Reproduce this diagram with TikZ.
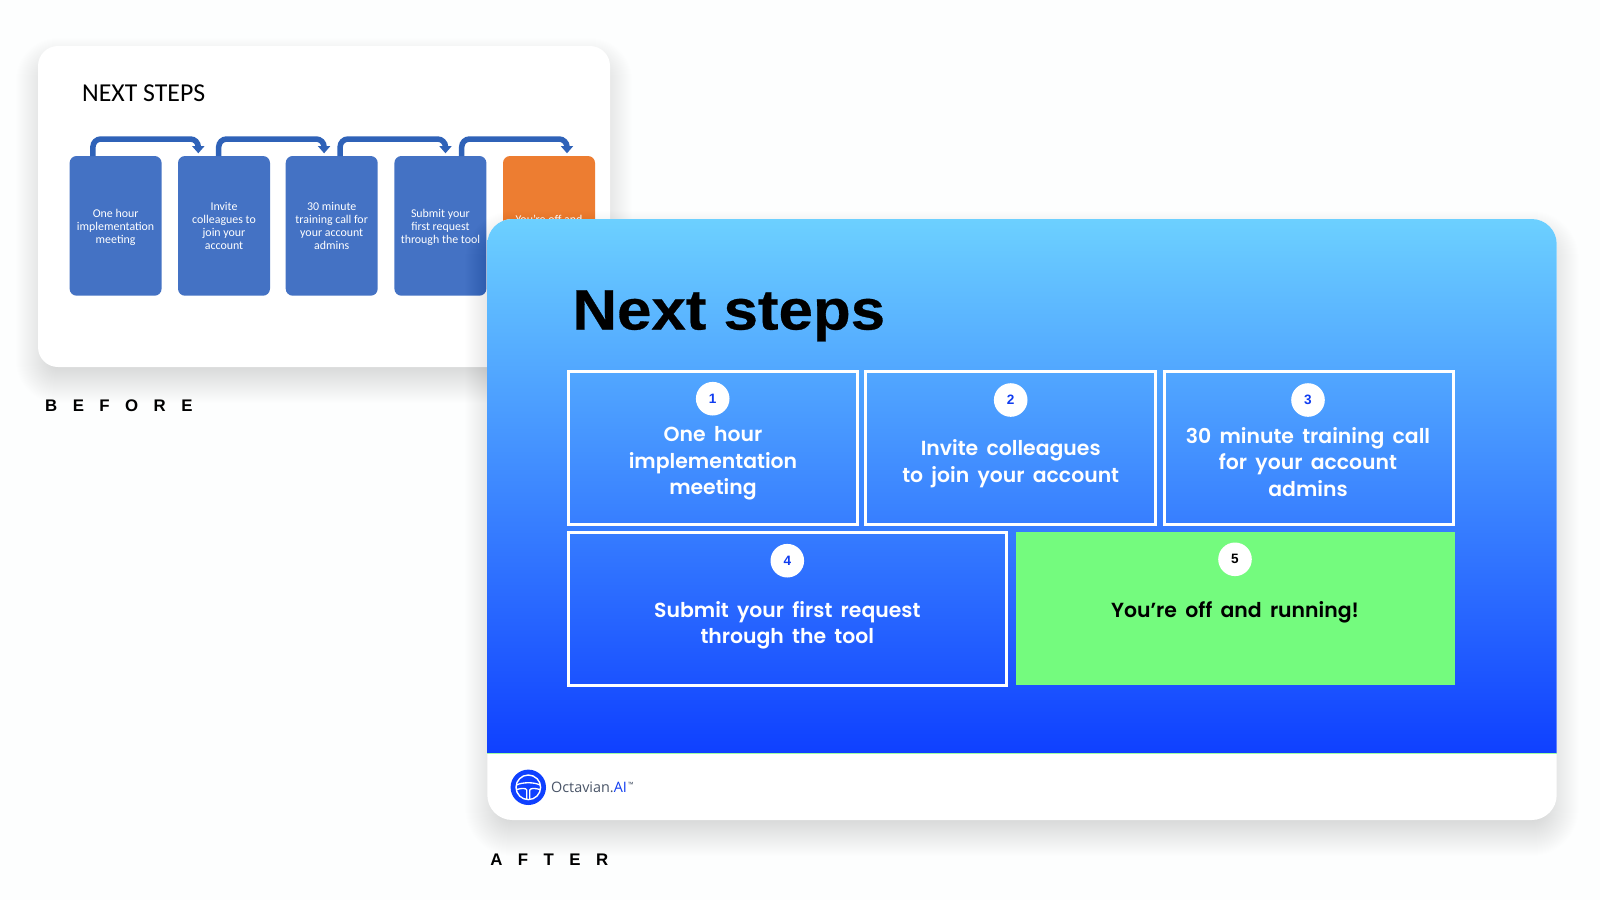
\documentclass[tikz,border=0pt]{standalone}
\usepackage{fontspec}
\usetikzlibrary{arrows.meta,calc}
\setmainfont{Liberation Sans}
\newfontfamily\popf[UprightFont=* SemiBold,WordSpace=1.7]{Poppins}
\newfontfamily\headf[FakeStretch=1.085,FakeBold=0.5]{Liberation Sans Bold}
\newfontfamily\spacedf[LetterSpace=92]{Liberation Sans Bold}
\newfontfamily\carl{Carlito}
\newfontfamily\openf{Open Sans}
\definecolor{pagebg}{HTML}{FDFEFE}
\definecolor{oldblue}{HTML}{4472C4}
\definecolor{oldarrow}{HTML}{2F62B8}
\definecolor{oldorange}{HTML}{ED7D31}
\definecolor{gradtop}{HTML}{6CD0FF}
\definecolor{gradbot}{HTML}{0F40FF}
\definecolor{okgreen}{HTML}{74FB7E}
\definecolor{numblue}{HTML}{0F3CF0}
\definecolor{logogray}{HTML}{4A5568}
\tikzset{
  oldbox/.style={fill=oldblue,rounded corners=3.5pt,minimum width=46pt,minimum height=69.85pt,inner sep=0pt,outer sep=0pt,text=white,align=center,font=\carl\fontsize{5.95}{6.6}\selectfont},
  oldarrowline/.style={draw=oldarrow,line width=2.75pt,rounded corners=4pt,-{Triangle[width=6pt,length=3.6pt]}},
  newbox/.style={draw=white,line width=1.5pt,minimum height=76.35pt,inner sep=0pt,outer sep=0pt},
  newtext/.style={text=white,align=center,font=\popf\fontsize{10.2}{13.2}\selectfont,inner sep=0pt},
  numdot/.style={circle,fill=white,minimum size=16.8pt,inner sep=0pt,text=numblue,font=\bfseries\fontsize{6.8}{8}\selectfont},
  caplabel/.style={anchor=base west,inner sep=0pt,text=black,font=\spacedf\fontsize{8.4}{10}\selectfont},
  cardbody/.style={fill=white,rounded corners=#1,inner sep=0pt,outer sep=0pt}
}
\newcommand{\softshadow}[5]{% x1,y1,x2,y2,radius
  \foreach \i in {-14,...,22}{
    \pgfmathsetmacro{\rr}{max(2,(#5+\i)/2)}
    \fill[black,opacity=0.0036,rounded corners=\rr pt] ({#1-\i},{#2-\i+14}) rectangle ({#3+\i},{#4+\i+14});
  }
}
\begin{document}
\begin{tikzpicture}[x=0.5pt,y=-0.5pt]
\useasboundingbox (0,0) rectangle (1600,900);
\fill[pagebg] (0,0) rectangle (1600,900);

% BEFORE card
\softshadow{38}{46}{610}{367}{20}
\node[cardbody=10pt,minimum width=286pt,minimum height=160.5pt] (oldcard) at (324,206.5) {};
\node[anchor=base west,inner sep=0pt,font=\carl\fontsize{12.9}{15}\selectfont] (oldtitle) at (81.8,101) {NEXT STEPS};

\node[oldbox] (o1) at (115.6,225.85) {\rule{0pt}{5.7pt}One hour\\implementation\\meeting};
\node[oldbox] (o2) at (224,225.85) {Invite\\colleagues to\\join your\\account};
\node[oldbox] (o3) at (331.7,225.85) {30 minute\\training call for\\your account\\admins};
\node[oldbox] (o4) at (440.4,225.85) {\rule{0pt}{5.7pt}Submit your\\first request\\through the tool};
\node[oldbox,fill=oldorange] (o5) at (549,225.85) {\rule{0pt}{5.7pt}You’re off and\\running!};

\draw[oldarrowline] ([shift={(23.3,0)}]o1.north west) -- ++(0,-17) -| ([shift={(20.3,-2.7)}]o2.north west);
\draw[oldarrowline] ([shift={(40.7,0)}]o2.north west) -- ++(0,-17) -| ([shift={(38.4,-2.7)}]o3.north west);
\draw[oldarrowline] ([shift={(54.4,0)}]o3.north west) -- ++(0,-17) -| ([shift={(51.1,-2.7)}]o4.north west);
\draw[oldarrowline] ([shift={(67.3,0)}]o4.north west) -- ++(0,-17) -| ([shift={(64,-2.7)}]o5.north west);

\node[caplabel] (beforelabel) at (44.8,411.7) {BEFORE};

% AFTER card
\softshadow{487.3}{219}{1556.7}{820}{25}
\node[cardbody=12.5pt,minimum width=534.7pt,minimum height=300.5pt] (newcard) at (1022,519.5) {};
\shade[top color=gradtop,bottom color=gradbot]
  (487.3,753.7) [rounded corners=12.5pt] -- (487.3,219) -- (1556.7,219) [sharp corners] -- (1556.7,753.7) -- cycle;
\fill[okgreen!70!white] (487.3,753.2) rectangle (1556.7,754.4);

\node[anchor=base west,inner sep=0pt,text=black,font=\headf\fontsize{28.5}{32}\selectfont] (newtitle) at (572,329.5) {Next steps};

\node[newbox,minimum width=144.65pt] (n1) at (712.85,447.85) {};
\node[newbox,minimum width=145pt] (n2) at (1010.5,447.85) {};
\node[newbox,minimum width=144.5pt] (n3) at (1308.5,447.85) {};
\node[newbox,minimum width=219.15pt] (n4) at (787.3,608.85) {};
\node[fill=okgreen,minimum width=219.5pt,minimum height=76.5pt,inner sep=0pt,outer sep=0pt] (n5) at (1235.5,608.5) {};

\node[numdot] (d1) at (712.7,398.7) {1};
\node[numdot] (d2) at (1010.7,400) {2};
\node[numdot] (d3) at (1308,400) {3};
\node[numdot] (d4) at (787.3,560.7) {4};
\node[numdot,text=black] (d5) at (1235,559.3) {5};

\node[newtext] (t1) at (713,463.5) {One hour\\implementation\\meeting};
\node[newtext] (t2) at (1010.7,463.5) {Invite colleagues\\to join your account};
\node[newtext] (t3) at (1308,462) {30 minute training call\\for your account\\admins};
\node[newtext] (t4) at (787.3,625) {Submit your first request\\through the tool};
\node[newtext,text=black] (t5) at (1235,612) {You’re off and running!};

% footer logo
\node[circle,fill=gradbot,minimum size=17.7pt,inner sep=0pt] (logo) at (528.3,787.3) {};
\draw[white,line width=0.7pt] (logo.center) circle (12.3);
\draw[white,line width=0.65pt] (516.6,785) .. controls (522,782) and (534.6,782) .. (540,785);
\draw[white,line width=0.65pt] (516.6,789.5) .. controls (522,788) and (526,788) .. (526.8,790) -- (526.8,799);
\draw[white,line width=0.65pt] (540,789.5) .. controls (534.6,788) and (530.6,788) .. (529.8,790) -- (529.8,799);
\node[anchor=base west,inner sep=0pt,font=\openf\fontsize{7.2}{9}\selectfont,text=logogray] (logotext) at (550.7,792.7)
  {Octavian.{\color{numblue}AI}\raisebox{2.6pt}{\fontsize{3.6}{4}\selectfont\,™}};

\node[caplabel] (afterlabel) at (490,865.7) {AFTER};
\end{tikzpicture}
\end{document}
